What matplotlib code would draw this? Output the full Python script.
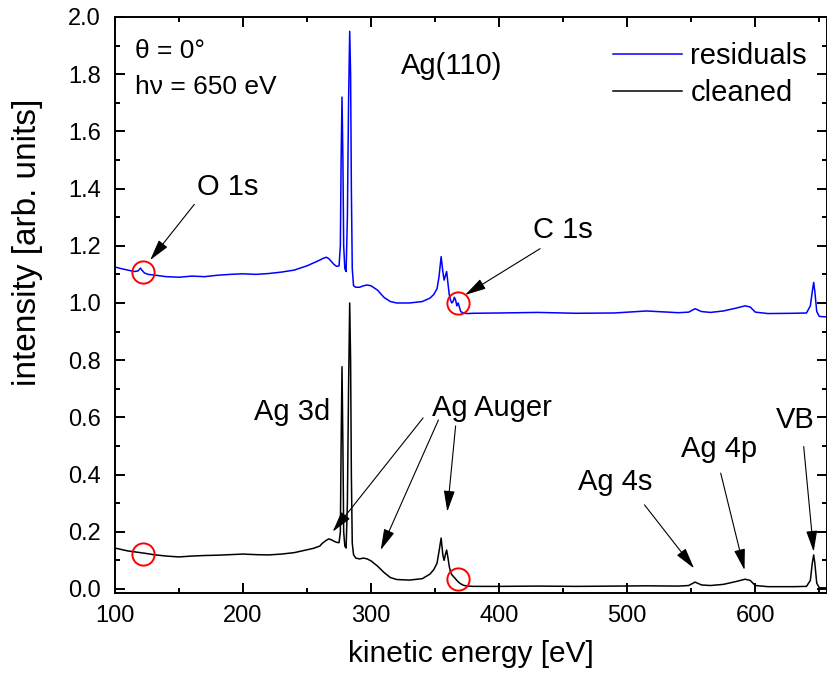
import numpy as np
import matplotlib.pyplot as plt
from matplotlib import font_manager
from matplotlib.lines import Line2D

# ==================================================
# data: kinetic energy grid (eV) and the two spectra
# ==================================================
energy = [
    100, 105, 110, 115, 118, 120, 121, 123, 126, 130, 140, 150, 160, 170, 180,
    190, 200, 210, 220, 230, 240, 250, 255, 260, 262, 265, 267, 269, 271, 273,
    275, 276, 276.6, 277.3, 278, 278.6, 279.5, 280.5, 281.5, 282.4, 283.3, 284,
    284.6, 285.3, 286.3, 288, 291, 294, 297, 300, 305, 310, 315, 320, 330, 340,
    346, 349, 351.5, 353, 354.7, 356, 357, 358, 359, 360, 361, 362, 363, 364,
    365, 366, 367, 368, 369, 370, 372, 375, 380, 400, 430, 460, 490, 515, 540,
    548, 553, 558, 565, 575, 585, 592, 596, 600, 610, 630, 640, 643, 644.5,
    645.6, 646.5, 648, 650, 656,
]

cleaned = [
    0.143, 0.138, 0.133, 0.130, 0.128, 0.127, 0.126, 0.125, 0.123, 0.120, 0.115,
    0.112, 0.115, 0.117, 0.118, 0.120, 0.122, 0.120, 0.119, 0.122, 0.127, 0.137,
    0.142, 0.150, 0.160, 0.170, 0.175, 0.172, 0.167, 0.163, 0.162, 0.200, 0.500,
    0.777, 0.500, 0.200, 0.150, 0.143, 0.300, 0.700, 1.000, 0.800, 0.400, 0.160,
    0.120, 0.108, 0.105, 0.108, 0.105, 0.098, 0.080, 0.058, 0.040, 0.033, 0.031,
    0.036, 0.052, 0.068, 0.090, 0.130, 0.178, 0.120, 0.100, 0.120, 0.136, 0.110,
    0.080, 0.060, 0.050, 0.045, 0.040, 0.035, 0.030, 0.025, 0.021, 0.018, 0.013,
    0.010, 0.009, 0.009, 0.010, 0.009, 0.010, 0.011, 0.010, 0.012, 0.024, 0.014,
    0.012, 0.016, 0.026, 0.034, 0.030, 0.012, 0.008, 0.008, 0.009, 0.030, 0.090,
    0.119, 0.090, 0.020, 0.004, 0.004,
]

residuals = [
    1.126, 1.120, 1.115, 1.110, 1.112, 1.122, 1.115, 1.105, 1.100, 1.098, 1.092,
    1.090, 1.094, 1.092, 1.097, 1.100, 1.102, 1.100, 1.103, 1.108, 1.115, 1.130,
    1.140, 1.150, 1.155, 1.160, 1.155, 1.145, 1.135, 1.128, 1.130, 1.200, 1.500,
    1.720, 1.500, 1.200, 1.120, 1.110, 1.300, 1.700, 1.950, 1.800, 1.400, 1.120,
    1.060, 1.055, 1.055, 1.060, 1.063, 1.060, 1.045, 1.020, 1.005, 1.000, 1.000,
    1.005, 1.017, 1.030, 1.050, 1.090, 1.162, 1.110, 1.080, 1.095, 1.110, 1.070,
    1.030, 1.010, 1.000, 1.005, 1.020, 1.010, 0.990, 1.000, 0.985, 0.970, 0.965,
    0.963, 0.964, 0.965, 0.967, 0.964, 0.965, 0.972, 0.966, 0.968, 0.980, 0.970,
    0.967, 0.972, 0.982, 0.990, 0.986, 0.968, 0.963, 0.964, 0.965, 0.990, 1.040,
    1.072, 1.040, 0.970, 0.953, 0.951,
]

# contamination markers (O 1s and C 1s positions on both curves)
mark_x = [122, 122, 368, 368]
mark_y = [1.109, 0.122, 1.0, 0.035]

# peak labels: text, text position, arrow tail, arrow tip
peak_labels = ["O 1s", "C 1s", "Ag 4s", "Ag 4p", "VB"]
peak_text_xy = [(188, 1.405), (450, 1.255), (490.6, 0.373), (571.8, 0.49), (631.2, 0.59)]
peak_tail_xy = [(162, 1.345), (432, 1.19), (513.5, 0.294), (573, 0.405), (637.8, 0.498)]
peak_tip_xy = [(127.5, 1.15), (373.4, 1.028), (552.2, 0.072), (591.6, 0.066), (645.6, 0.13)]

auger_text_xy = (394.6, 0.633)
auger_tails = [(340.6, 0.598), (352.6, 0.591), (366, 0.57)]
auger_tips = [(270, 0.2), (307.5, 0.136), (359.5, 0.27)]

# ==================================================
# fonts
# ==================================================
names = {f.name for f in font_manager.fontManager.ttflist}
NARROW = "Liberation Sans Narrow" if "Liberation Sans Narrow" in names else "Liberation Sans"
TICK_SIZE = 19 if NARROW.endswith("Narrow") else 17
XLABEL_SIZE = 25 if NARROW.endswith("Narrow") else 21.5
YLABEL_SIZE = 28 if NARROW.endswith("Narrow") else 24
plt.rcParams["font.family"] = ["Liberation Sans", "DejaVu Sans"]

# ==================================================
# plot
# ==================================================
fig = plt.figure(figsize=(8.27, 6.80), dpi=100)
ax = fig.add_axes([0.139, 0.128, 0.861, 0.847])

ax.plot(energy, residuals, color="#0000ff", lw=1.1, label="residuals")
ax.plot(energy, cleaned, color="black", lw=1.1, label="cleaned")
ax.plot(mark_x, mark_y, "o", ms=16, mfc="none", mec="#ff0000", mew=1.4, ls="none")

ax.set_xlim(100, 656)
ax.set_ylim(-0.014, 2.0)
ax.set_xticks(np.arange(100, 601, 100))
ax.set_xticks(np.arange(150, 656, 100), minor=True)
ax.set_yticks(np.arange(0, 2.01, 0.2))
ax.set_yticks(np.arange(0.1, 2.0, 0.2), minor=True)
ax.tick_params(which="both", direction="in", top=True, right=True, width=1.4)
ax.tick_params(which="major", length=7)
ax.tick_params(which="minor", length=3.5)
ax.tick_params(axis="x", pad=9)
ax.tick_params(axis="y", pad=10)
ax.yaxis.set_major_formatter(plt.FormatStrFormatter("%.1f"))
for lab in ax.get_xticklabels() + ax.get_yticklabels():
    lab.set_family(NARROW)
    lab.set_fontsize(TICK_SIZE)
for sp in ax.spines.values():
    sp.set_linewidth(1.4)

ax.set_xlabel("kinetic energy [eV]", family=NARROW, fontsize=XLABEL_SIZE)
ax.set_ylabel("intensity [arb. units]", family=NARROW, fontsize=YLABEL_SIZE)
ax.xaxis.set_label_coords(0.5, -0.082)
ax.yaxis.set_label_coords(-0.101, 0.608)

arrow = dict(arrowstyle="-|>,head_length=0.65,head_width=0.17", mutation_scale=20,
             lw=0.8, color="black", shrinkA=0, shrinkB=0)

for name, txy, tail, tip in zip(peak_labels, peak_text_xy, peak_tail_xy, peak_tip_xy):
    ax.text(*txy, name, fontsize=21, ha="center", va="center")
    ax.annotate("", xy=tip, xytext=tail, arrowprops=arrow)

ax.text(*auger_text_xy, "Ag Auger", fontsize=21, ha="center", va="center")
for tail, tip in zip(auger_tails, auger_tips):
    ax.annotate("", xy=tip, xytext=tail, arrowprops=arrow)

ax.text(238, 0.62, "Ag 3d", fontsize=21, ha="center", va="center")
ax.text(363, 1.83, "Ag(110)", fontsize=21, ha="center", va="center")
ax.text(115.6, 1.88, "θ = 0°", fontsize=19, ha="left", va="center")
ax.text(115.6, 1.754, "hν = 650 eV", fontsize=19, ha="left", va="center")

handles = [Line2D([], [], color="#0000ff", lw=1.1), Line2D([], [], color="black", lw=1.1)]
ax.legend(handles, ["residuals", "cleaned"], loc="upper left",
          bbox_to_anchor=(613 / 827, 0.938), bbox_transform=fig.transFigure,
          frameon=False, fontsize=21, handlelength=2.35, handletextpad=0.3,
          labelspacing=0.3, borderpad=0, borderaxespad=0)

fig.savefig("out.png", dpi=100)
